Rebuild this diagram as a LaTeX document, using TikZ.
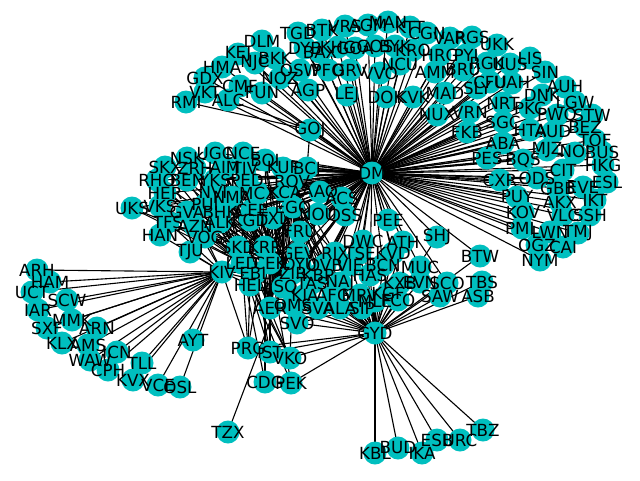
\documentclass[tikz,border=0pt]{standalone}
\usepackage{fontspec}
\setmainfont{DejaVu Sans}
\pgfdeclarelayer{background}
\pgfdeclarelayer{fg}
\pgfsetlayers{background,main,fg}
\definecolor{nodec}{RGB}{0,191,191}
\tikzset{
  dot/.style={circle,fill=nodec,draw=none,minimum size=23pt,inner sep=0pt},
  lab/.style={inner sep=0pt,font=\fontsize{16.7}{18}\selectfont,text=black},
  edge/.style={line width=1.1pt,black}
}
\begin{document}
\begin{tikzpicture}[x=1pt,y=-1pt]
\useasboundingbox (0,0) rectangle (640,480);
% ---------- nodes ----------
\foreach \n/\x/\y in {DM/372/173, GYD/375/333, KIV/222/272, GOJ/310/130,
 RMI/186/102, VKT/205/92, ALC/228/100, GDX/205/78, HMA/222/67, CMF/240/86, KEJ/238/54, NJC/255/63, DLM/262/41, BKK/275/58, FUN/262/93, NOZ/280/78, TGD/298/33, DYB/305/48, OSW/300/70, BAX/320/52, AGP/308/90, PFO/328/70, BTK/322/30, KHG/338/47, VRS/345/26, GOA/355/48, GRV/350/70, LEJ/347/95, AGM/368/25, GOS/375/46, VVO/380/73, MAN/388/22, BYK/395/46, DOK/386/97, NCU/400/64, KTT/410/27, KRO/413/50, KVK/413/97, CGN/427/33, AMM/435/72, MAD/445/93, HRG/440/55, VAR/450/38, NUX/437/115, BRU/463/70, PYI/466/55, RGS/472/37, SLY/477/88, VRN/470/112, UKK/497/45, RGK/487/63, UUS/510/64, CFU/490/82, UAH/512/83, LIS/530/58, SIN/545/72, NRT/503/103, DNK/542/95, AUH/565/87, LGW/575/102, PKC/530/108, PWQ/557/115, STW/592/115, FKB/467/132, SGC/503/122, HTA/530/130, AUD/553/132, BEZ/585/127, TOF/595/140, ABA/503/143, MJZ/547/150, NOJ/575/153, BUS/602/152, PES/487/158, BQS/523/160, CIT/563/170, HKG/603/165, CXR/500/180, ODS/537/178, GBB/558/188, EVE/583/187, ESL/607/182, PUY/517/197, AKX/560/202, IKT/595/200, KOV/523/212, VLC/563/215, SSH/590/215, PML/522/228, LWN/550/232, TMJ/578/233, OGZ/537/245, CAI/563/247, NYM/540/260,
 UGC/215/153, NCE/243/153, NSK/187/158, BOI/265/160, SKX/165/167, ZRH/195/168, AIM/225/167, TIV/245/168, RHO/157/180, BEN/187/180, YKS/215/180, PED/247/180, HER/165/193, NVI/213/192, NMA/232/197, MCX/258/193, UKS/132/208, VKS/160/206, PUI/205/205, GVA/187/212, BHK/220/212, CEE/252/210, TFS/168/222, AZN/195/226, ALK/220/222, KGD/250/220, HAN/160/235, VOG/205/237, TJU/190/252,
 KUF/283/168, BCI/307/168, ROV/292/181, KCA/285/192, AAQ/320/192, ACS/342/198, EGO/293/207, TXL/273/218, NOU/318/214, OSS/345/215, PEE/388/220, FRU/300/232, DWC/363/241, ATH/403/242, SHJ/437/237, SKD/238/247, KRR/265/247, GEV/298/253, RIX/335/253, TSE/360/253, KVD/393/253, LED/242/263, CEK/270/263, DYU/300/265, OVB/325/265, VIE/350/265, BCN/383/265, MUC/420/267, EBL/255/273, ZIR/293/273, KBP/318/275, HAS/370/275, TAS/312/283, NAJ/340/283, KXB/400/283, EVN/420/282, HEL/250/285, ISQ/283/287, KIA/305/295, AFG/333/295, MRV/360/295, KGF/388/293, AER/270/308, OMS/293/305, SVA/318/308, ALA/340/308, SIP/362/308, MLE/375/301, FCO/398/300, SVO/297/323,
 BTW/480/256, SCO/447/283, TBS/482/282, SAW/440/296, ASB/478/296,
 PRG/248/348, IST/270/352, VKO/290/358, CDG/265/382, PEK/291/383, TZX/228/432, KBL/375/453, BUD/398/448, IKA/422/453, ESB/437/440, URC/460/440, TBZ/483/430,
 ARH/37/270, HAM/50/282, UCT/32/292, SCW/67/300, IAR/38/310, MMK/72/320, ARN/97/328, SXF/47/328, KLX/62/343, AMS/88/345, ICN/117/352, WAW/90/360, TLL/142/363, CPH/108/370, KVX/133/380, VCE/158/385, OSL/180/387, AYT/193/340}
 {\node[dot] (\n) at (\x,\y) {};
  \begin{pgfonlayer}{fg}\node[lab] at (\n) {\n};\end{pgfonlayer}}
% ---------- edges ----------
\begin{pgfonlayer}{background}
\foreach \t in {VKT,GDX,HMA,CMF,KEJ,NJC,DLM,BKK,FUN,NOZ,TGD,DYB,OSW,BAX,AGP,PFO,BTK,KHG,VRS,GOA,GRV,LEJ,AGM,GOS,VVO,MAN,BYK,DOK,NCU,KTT,KRO,KVK,CGN,AMM,MAD,HRG,VAR,NUX,BRU,PYI,RGS,SLY,VRN,UKK,RGK,UUS,CFU,UAH,LIS,SIN,NRT,DNK,AUH,LGW,PKC,PWQ,STW,FKB,SGC,HTA,AUD,BEZ,TOF,ABA,MJZ,NOJ,BUS,PES,BQS,CIT,HKG,CXR,ODS,GBB,EVE,ESL,PUY,AKX,IKT,KOV,VLC,SSH,PML,LWN,TMJ,OGZ,CAI,NYM,GOJ,
 UGC,NCE,NSK,BOI,SKX,ZRH,AIM,TIV,RHO,BEN,YKS,PED,HER,NVI,NMA,MCX,UKS,VKS,PUI,GVA,BHK,CEE,TFS,AZN,ALK,KGD,HAN,VOG,TJU,
 KUF,BCI,ROV,KCA,AAQ,ACS,EGO,TXL,NOU,OSS,PEE,FRU,DWC,ATH,SHJ,BTW,SKD,KRR,GEV,RIX,TSE,KVD,LED,CEK,DYU,OVB,VIE,BCN,MUC,EBL,ZIR,KBP,HAS,TAS,NAJ,HEL,ISQ,KIV,SVO,AER,SCO,KXB}
  \draw[edge] (DM.center) -- (\t.center);
\foreach \t in {RMI,ALC,BCI}
  \draw[edge] (GOJ.center) -- (\t.center);
\foreach \t in {KBL,BUD,IKA,ESB,URC,TBZ,PRG,IST,VKO,PEK,SVO,SAW,ASB,TBS,SCO,BTW,MUC,EVN,KVD,KXB,KGF,FCO,MLE,SIP,ALA,SVA,OMS,MRV,AFG,KIA,NAJ,TAS,HAS,VIE,BCN,RIX,TSE,DWC,ATH,SHJ,AER,OVB,DYU,KBP,GEV,FRU}
  \draw[edge] (GYD.center) -- (\t.center);
\foreach \t in {ARH,HAM,UCT,SCW,IAR,MMK,ARN,SXF,KLX,AMS,ICN,WAW,TLL,CPH,KVX,VCE,OSL,AYT,TJU,HAN,VOG,LED,EBL,HEL,SKD,TFS,GVA,PRG,CEK,ZIR,ISQ}
  \draw[edge] (KIV.center) -- (\t.center);
\foreach \t in {UGC,NCE,NSK,SKX,ZRH,AIM,RHO,BEN,YKS,HER,NVI,UKS,VKS,PUI,GVA,BHK,AZN,ALK,TFS,KGD}
  {\draw[edge] (LED.center) -- (\t.center); \draw[edge] (ZIR.center) -- (\t.center);}
\foreach \t in {UGC,TIV,PED,NMA,MCX,CEE,BOI,KGD,ROV,KCA,EGO,TXL,KUF}
  {\draw[edge] (SVO.center) -- (\t.center); \draw[edge] (AER.center) -- (\t.center); \draw[edge] (ISQ.center) -- (\t.center);}
\foreach \t in {GEV,RIX,DYU,OVB,KBP,TAS,NAJ,KIA,AFG,FRU,CEK,KRR,EBL,HEL}
  {\draw[edge] (EGO.center) -- (\t.center); \draw[edge] (ROV.center) -- (\t.center);}
\foreach \a/\b in {PRG/LED,PRG/HEL,PRG/KRR,IST/LED,IST/AER,IST/CEK,IST/EBL,VKO/LED,VKO/EBL,VKO/ZIR,VKO/HEL,CDG/KRR,CDG/SKD,PEK/LED,PEK/CEK,TZX/ISQ,SVO/FCO,OMS/LED,AER/MLE,HEL/SIP}
  \draw[edge] (\a.center) -- (\b.center);
\end{pgfonlayer}
\end{tikzpicture}
\end{document}
